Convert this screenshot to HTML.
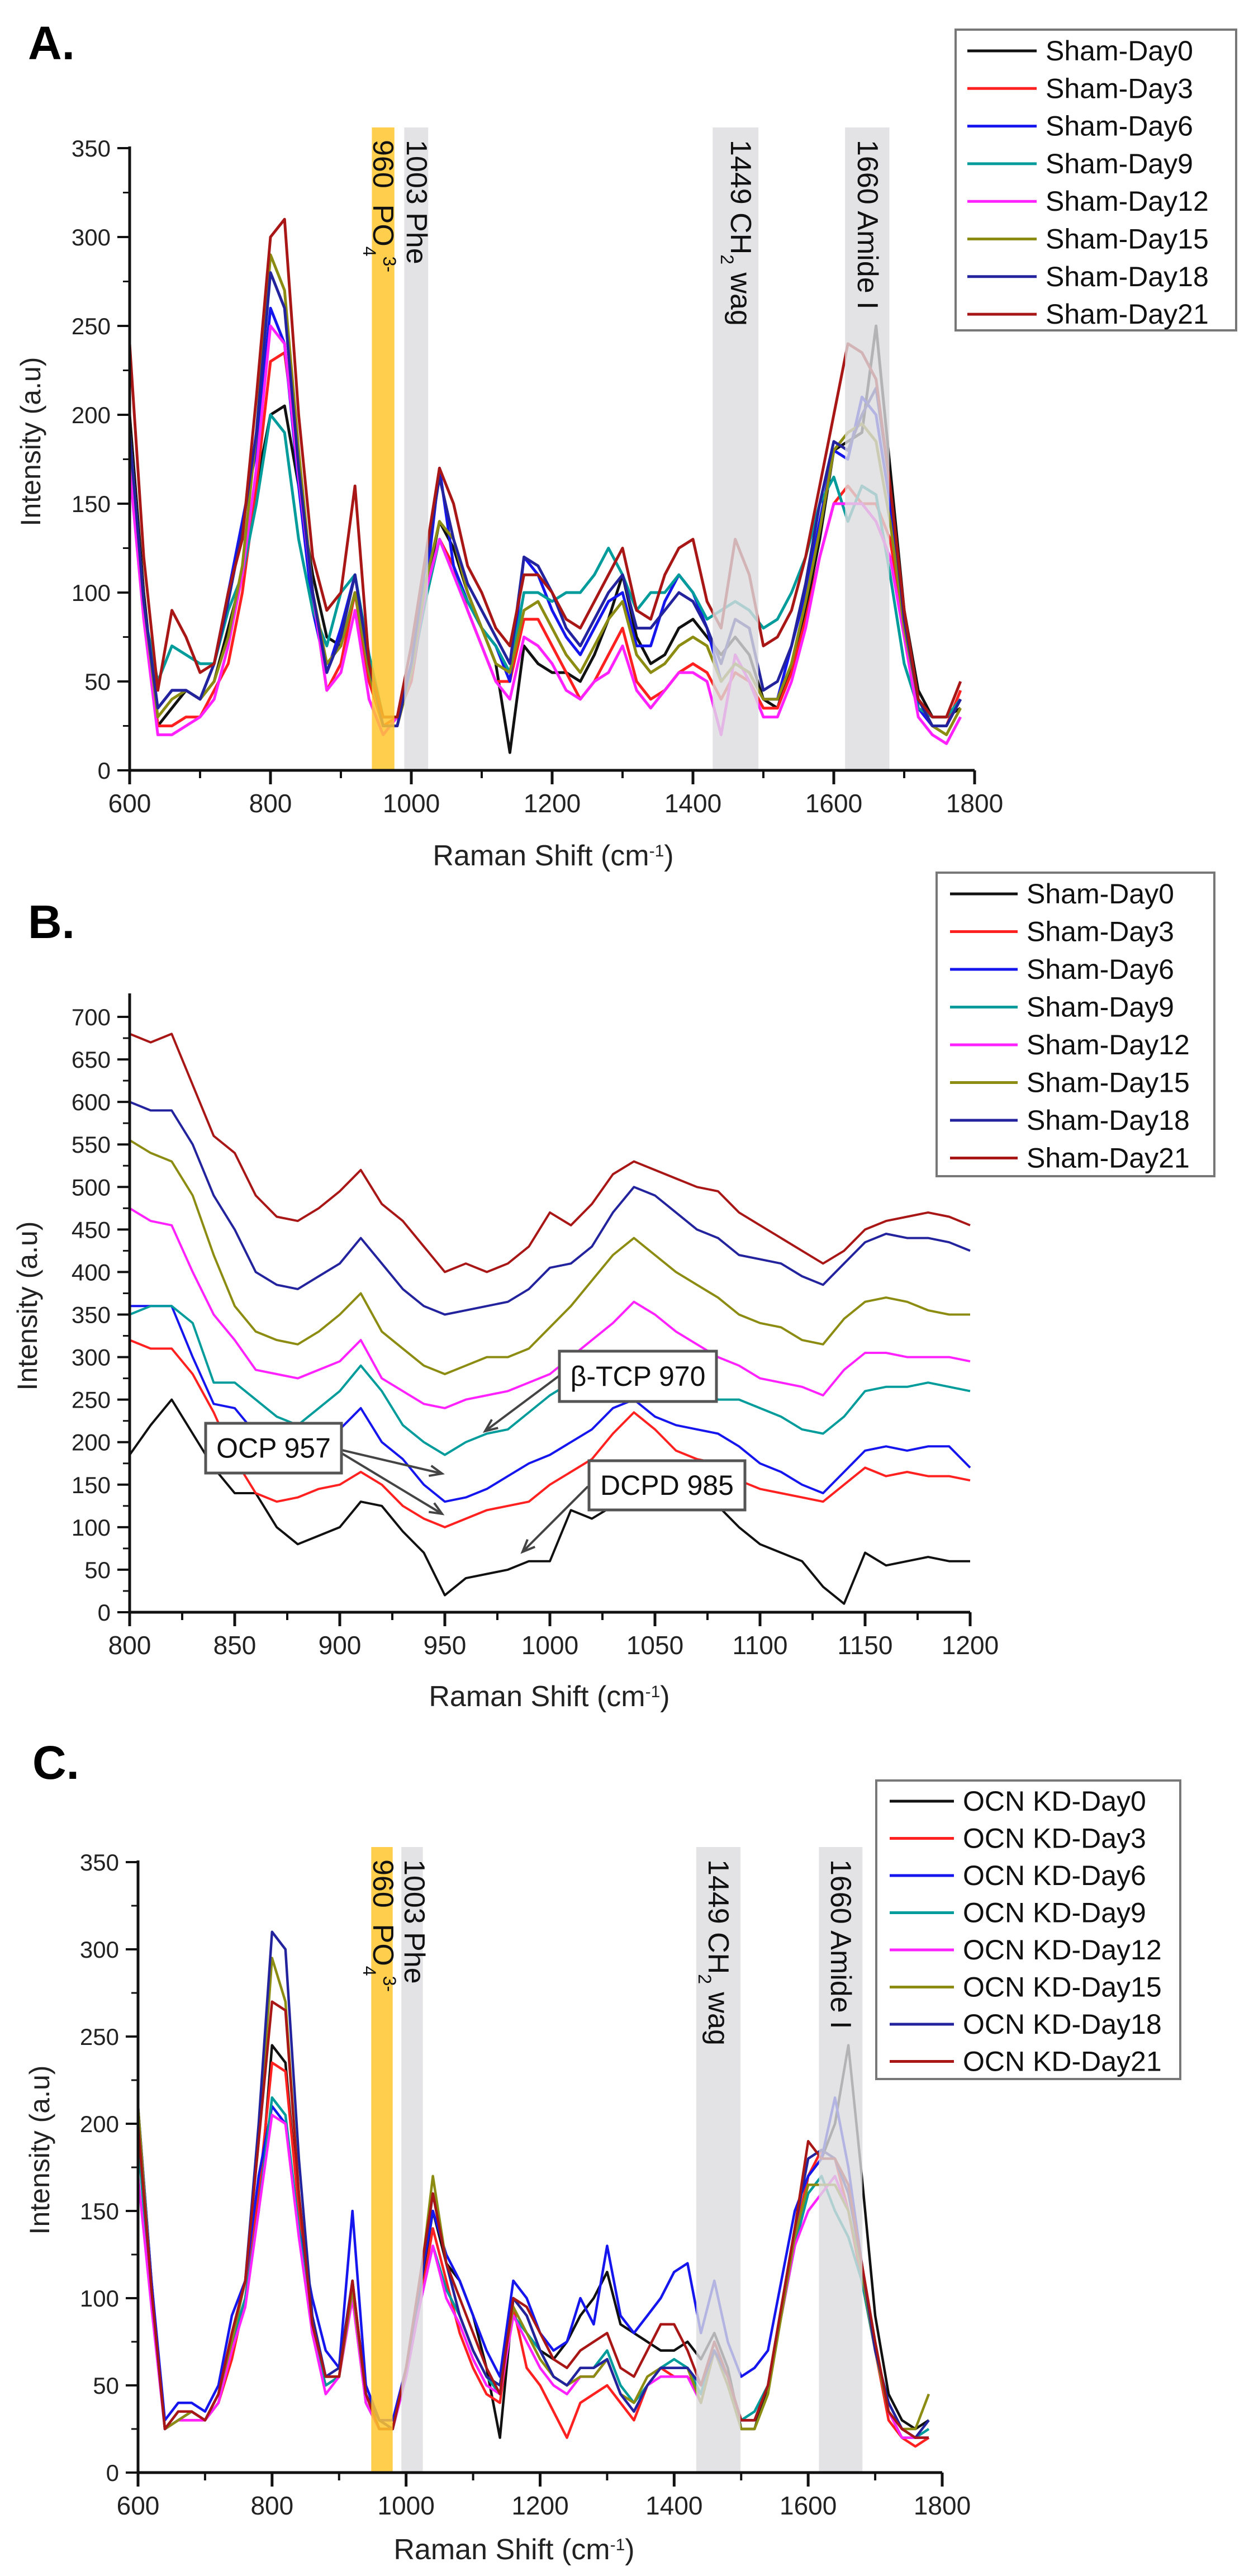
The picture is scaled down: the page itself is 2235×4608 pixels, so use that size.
<!DOCTYPE html>
<html><head><meta charset="utf-8">
<style>
html,body{margin:0;padding:0;background:#fff;}
svg{display:block;font-family:"Liberation Sans",Arial,sans-serif;}
</style></head>
<body>
<svg id="fig" width="2235" height="4608" viewBox="0 0 2235 4608" xmlns="http://www.w3.org/2000/svg">
<rect width="2235" height="4608" fill="#fff"/>
</svg>
<script>
// ---------- DATA ----------
const xA = [600,620,640,660,680,700,720,740,760,780,800,820,840,860,880,900,920,940,960,980,1000,1020,1040,1060,1080,1100,1120,1140,1160,1180,1200,1220,1240,1260,1280,1300,1320,1340,1360,1380,1400,1420,1440,1460,1480,1500,1520,1540,1560,1580,1600,1620,1640,1660,1680,1700,1720,1740,1760,1780];
const seriesNamesA = ["Sham-Day0","Sham-Day3","Sham-Day6","Sham-Day9","Sham-Day12","Sham-Day15","Sham-Day18","Sham-Day21"];
const a0 = [200,100,25,35,45,40,50,80,110,160, 200,205,160,110,75,70,100,60,30,30, 55,100,140,125,100,80,60,10,70,60, 55,55,50,65,85,110,75,60,65,80, 85,75,65,75,65,40,35,60,90,130, 180,185,190,250,170,90,45,30,30,35];
const a3 = [190,95,25,25,30,30,45,60,100,160, 230,235,175,100,45,60,100,50,25,30, 50,100,130,115,90,70,50,50,85,85, 70,55,40,50,65,80,50,40,45,55, 60,55,40,55,50,35,35,55,85,120, 150,160,150,150,130,80,35,25,25,45];
const a6 = [180,90,35,45,45,40,60,100,140,180, 260,240,160,90,55,80,110,60,30,30, 60,100,170,115,95,80,70,50,120,110, 90,75,65,80,95,100,70,70,95,110, 100,80,50,60,55,40,40,70,100,140, 180,175,210,200,150,80,35,25,25,40];
const a9 = [170,90,50,70,65,60,60,90,110,150, 200,190,130,90,70,100,110,65,30,30, 55,95,130,110,95,80,70,55,100,100, 95,100,100,110,125,110,90,100,100,110, 100,85,90,95,90,80,85,100,120,150, 165,140,160,155,110,60,35,30,30,40];
const a12 = [170,85,20,20,25,30,40,70,110,170, 250,240,165,100,45,55,90,40,20,30, 55,100,130,110,90,70,50,40,75,70, 60,45,40,50,55,70,45,35,45,55, 55,50,20,65,50,30,30,50,80,120, 150,150,150,140,120,75,30,20,15,30];
const a15 = [190,95,30,40,45,40,50,75,115,190, 290,270,180,100,60,70,100,55,25,25, 55,105,140,130,100,80,60,55,90,95, 80,65,55,70,85,95,65,55,60,70, 75,70,50,60,55,40,40,60,95,135, 180,190,195,185,140,80,40,25,20,35];
const a18 = [190,95,35,45,45,40,60,95,135,190, 280,260,170,100,55,75,110,60,25,25, 60,115,165,130,105,90,75,60,120,115, 100,80,70,85,100,110,80,80,90,100, 95,80,60,85,80,45,50,70,105,150, 185,180,200,215,160,85,40,25,25,40];
const a21 = [240,120,45,90,75,55,60,100,130,210, 300,310,200,120,90,100,160,60,30,30, 70,120,170,150,115,100,80,70,110,110, 100,85,80,95,110,125,90,85,110,125, 130,95,80,130,110,70,75,90,120,160, 200,240,235,220,160,90,40,30,30,50];

const xB = [800,810,820,830,840,850,860,870,880,890,900,910,920,930,940,950,960,970,980,990,1000,1010,1020,1030,1040,1050,1060,1070,1080,1090,1100,1110,1120,1130,1140,1150,1160,1170,1180,1190,1200];
const seriesNamesB = ["Sham-Day0","Sham-Day3","Sham-Day6","Sham-Day9","Sham-Day12","Sham-Day15","Sham-Day18","Sham-Day21"];
const b0 = [185,220,250,210,170,140,140,100,80,90, 100,130,125,95,70,20,40,45,50,60, 60,120,110,125,155,160,150,125,125,100, 80,70,60,30,10,70,55,60,65,60, 60];
const b3 = [320,310,310,280,235,180,140,130,135,145, 150,165,150,125,110,100,110,120,125,130, 150,165,180,210,235,215,190,180,175,155, 145,140,135,130,150,170,160,165,160,160, 155];
const b6 = [360,360,360,300,245,240,210,205,200,215, 215,240,200,180,150,130,135,145,160,175, 185,200,215,240,250,230,220,215,210,195, 175,165,150,140,165,190,195,190,195,195, 170];
const b9 = [350,360,360,340,270,270,250,230,220,240, 260,290,260,220,200,185,200,210,215,235, 255,270,260,270,260,250,260,265,250,250, 240,230,215,210,230,260,265,265,270,265, 260];
const b12 = [475,460,455,400,350,320,285,280,275,285, 295,320,275,260,245,240,250,255,260,270, 280,300,320,340,365,350,330,315,300,290, 275,270,265,255,285,305,305,300,300,300, 295];
const b15 = [555,540,530,490,420,360,330,320,315,330, 350,375,330,310,290,280,290,300,300,310, 335,360,390,420,440,420,400,385,370,350, 340,335,320,315,345,365,370,365,355,350, 350];
const b18 = [600,590,590,550,490,450,400,385,380,395, 410,440,410,380,360,350,355,360,365,380, 405,410,430,470,500,490,470,450,440,420, 415,410,395,385,410,435,445,440,440,435, 425];
const b21 = [680,670,680,620,560,540,490,465,460,475, 495,520,480,460,430,400,410,400,410,430, 470,455,480,515,530,520,510,500,495,470, 455,440,425,410,425,450,460,465,470,465, 455];

const xC = xA;
const seriesNamesC = ["OCN KD-Day0","OCN KD-Day3","OCN KD-Day6","OCN KD-Day9","OCN KD-Day12","OCN KD-Day15","OCN KD-Day18","OCN KD-Day21"];
const c0 = [210,110,25,30,35,30,40,70,100,150, 245,235,150,80,55,55,105,50,30,25, 60,100,150,120,110,90,60,20,100,90, 70,65,75,90,100,115,85,80,75,70, 70,75,65,80,60,25,25,50,90,130, 170,180,200,245,170,90,45,30,25,30];
const c3 = [200,100,25,30,30,30,40,65,100,160, 235,230,150,80,50,55,100,40,25,25, 60,95,140,110,80,60,45,40,95,60, 50,35,20,40,45,50,40,30,50,60, 55,55,45,70,55,30,30,50,90,135, 170,185,180,150,110,70,30,20,15,20];
const c6 = [210,110,30,40,40,35,50,90,110,170, 210,200,140,100,70,60,150,50,30,30, 60,105,150,125,110,90,70,55,110,100, 80,70,75,100,85,130,90,80,90,100, 115,120,80,110,75,55,60,70,110,150, 170,180,215,175,120,70,40,25,20,20];
const c9 = [190,100,25,30,35,30,45,75,100,150, 215,205,140,80,50,55,110,40,25,25, 55,95,130,105,90,70,55,45,90,80, 70,55,50,60,60,70,50,40,50,60, 65,60,45,75,55,30,35,50,90,130, 160,170,150,135,110,70,35,20,20,25];
const c12 = [170,95,25,30,30,30,40,70,95,150, 205,200,135,80,45,55,100,40,25,25, 55,95,130,100,85,65,50,45,90,75, 60,50,45,55,55,65,45,35,50,55, 55,55,40,70,50,30,30,50,90,130, 150,160,170,150,115,70,35,20,20,20];
const c15 = [210,105,25,30,35,30,45,75,110,190, 295,270,160,85,55,55,105,45,25,25, 60,105,170,120,90,70,55,50,95,80, 65,55,50,55,55,65,45,40,55,60, 60,60,40,70,50,25,25,45,90,135, 165,165,165,150,115,70,35,25,25,45];
const c18 = [200,105,25,35,35,30,45,80,110,200, 310,300,180,90,55,60,110,45,30,25, 60,105,160,120,90,70,55,50,100,90, 70,55,50,60,60,65,45,35,50,60, 60,60,50,70,55,30,30,50,95,140, 180,185,180,160,120,70,40,25,20,30];
const c21 = [200,105,25,35,35,30,45,80,110,190, 270,265,160,85,55,55,110,45,25,25, 60,110,160,120,100,80,60,45,100,95, 80,65,60,70,75,80,60,55,70,85, 85,70,50,75,55,30,30,50,95,140, 190,180,180,165,120,75,35,25,20,20];

const ticksAC_x = [600,800,1000,1200,1400,1600,1800];
const ticksAC_y = [0,50,100,150,200,250,300,350];
const ticksB_x = [800,850,900,950,1000,1050,1100,1150,1200];
const ticksB_y = [0,50,100,150,200,250,300,350,400,450,500,550,600,650,700];
const bandsA = [[944,976],[990,1024],[1428,1493],[1616,1679]];
const bandsC = [[948,980],[993,1025],[1433,1499],[1616,1681]];

// ---------- RENDERING ----------
const NS = "http://www.w3.org/2000/svg";
const svg = document.getElementById('fig');
const colors = ["#111111","#ff2020","#1515ee","#009b9b","#ff22ff","#8c8c12","#23239e","#a81616"];
function mk(tag, attrs, parent){const e=document.createElementNS(NS,tag);for(const k in attrs)e.setAttribute(k,attrs[k]);(parent||svg).appendChild(e);return e;}

function drawPanel(P){
  const g = mk('g',{});
  
  
  const sx = v => P.px0 + (v-P.xmin)/(P.xmax-P.xmin)*(P.px1-P.px0);
  const sy = v => P.py0 - (v-P.ymin)/(P.ymax-P.ymin)*(P.py0-P.py1);
  P.series.forEach((s,i)=>{
    let d='';
    s.forEach((v,j)=>{ d += (j?'L':'M')+sx(P.xs[j]).toFixed(1)+' '+sy(v).toFixed(1); });
    const p = mk('path',{d:d,fill:'none',stroke:colors[i],'stroke-width':P.lw,'stroke-linejoin':'round'},g);
    
    
  });
  (P.bands||[]).forEach((b,i)=>{
    const r = mk('rect',{x:sx(b[0]),y:P.bandTop,width:sx(b[1])-sx(b[0]),height:P.py0-P.bandTop,fill:i===0?'#ffc52e':'#dcdcdf','fill-opacity':i===0?0.85:0.8},g);
    
    
  });
  mk('line',{x1:P.px0,y1:P.py0,x2:P.px1,y2:P.py0,stroke:'#111','stroke-width':5},g);
  mk('line',{x1:P.px0,y1:P.py0+25,x2:P.px0,y2:P.axTop,stroke:'#111','stroke-width':5},g);
  P.xt.forEach(t=>{
    const x=sx(t);
    mk('line',{x1:x,y1:P.py0,x2:x,y2:P.py0+25,stroke:'#111','stroke-width':5},g);
    const tx = mk('text',{x:x,y:P.py0+75,'text-anchor':'middle','font-size':46,fill:'#222'},g);
    tx.textContent=t;
    
    
  });
  for(let k=0;k<P.xt.length-1;k++){
    const x=(sx(P.xt[k])+sx(P.xt[k+1]))/2;
    mk('line',{x1:x,y1:P.py0,x2:x,y2:P.py0+14,stroke:'#111','stroke-width':4},g);
  }
  P.yt.forEach((t,k)=>{
    const y=sy(t);
    mk('line',{x1:P.px0-22,y1:y,x2:P.px0,y2:y,stroke:'#111','stroke-width':4},g);
    if(k<P.yt.length-1){const y2=(y+sy(P.yt[k+1]))/2;mk('line',{x1:P.px0-12,y1:y2,x2:P.px0,y2:y2,stroke:'#111','stroke-width':3},g);}
    const tx = mk('text',{x:P.px0-34,y:y+15,'text-anchor':'end','font-size':42,fill:'#222'},g);
    tx.textContent=t;
    
    
  });
  const yl = mk('text',{x:0,y:0,'text-anchor':'middle','font-size':50,fill:'#222',transform:`translate(${P.ylx},${P.yly}) rotate(-90)`},g);
  yl.textContent='Intensity (a.u)';
  
  
  const xl = mk('text',{x:P.xlx,y:P.xly,'text-anchor':'middle','font-size':52,fill:'#222'},g);
  xl.innerHTML='Raman Shift (cm<tspan baseline-shift="super" font-size="30">-1</tspan>)';
  
  
  const pl = mk('text',{x:P.lx,y:P.ly,'font-size':84,'font-weight':'bold',fill:'#000'},g);
  pl.textContent=P.letter;
  
  
  const lg = mk('g',{},g);
  
  
  mk('rect',{x:P.lgx,y:P.lgy,width:P.lgw,height:P.lgh,fill:'#fff',stroke:'#777','stroke-width':4},lg);
  P.names.forEach((n,i)=>{
    const y=P.lgy+P.lg0+i*P.lgs;
    const en = mk('g',{},lg);
    
    
    mk('line',{x1:P.lgl0,y1:y,x2:P.lgl1,y2:y,stroke:colors[i],'stroke-width':5},en);
    const t = mk('text',{x:P.lgl1+16,y:y+17,'font-size':50,fill:'#111'},en);
    t.textContent=n;
  });
  return {g,sx,sy};
}

function bandLabel(g,x,y,html,name){
  const t = mk('text',{x:0,y:0,'font-size':52,fill:'#111',transform:`translate(${x},${y}) rotate(90)`},g);
  t.innerHTML=html;
  
  
}

const A = drawPanel({id:'panel-a',letter:'A.',xs:xA,series:[a0,a3,a6,a9,a12,a15,a18,a21],names:seriesNamesA,
  xmin:600,xmax:1800,ymin:0,ymax:350,px0:232,px1:1744,py0:1378,py1:265,axTop:262,lw:5,
  bands:bandsA,bandTop:228,xt:ticksAC_x,yt:ticksAC_y,
  ylx:72,yly:790,xlx:990,xly:1548,lx:50,ly:106,
  lgx:1710,lgy:53,lgw:502,lgh:538,lg0:38,lgs:67.3,lgl0:1731,lgl1:1855});
bandLabel(A.g,668,250,'960&#160;&#160;PO<tspan baseline-shift="sub" font-size="32">4</tspan><tspan baseline-shift="super" font-size="32">3-</tspan>','band-label-960-po4');
bandLabel(A.g,728,250,'1003 Phe','band-label-1003-phe');
bandLabel(A.g,1308,250,'1449 CH<tspan baseline-shift="sub" font-size="32">2</tspan> wag','band-label-1449-ch2');
bandLabel(A.g,1535,250,'1660 Amide I','band-label-1660-amide');

const B = drawPanel({id:'panel-b',letter:'B.',xs:xB,series:[b0,b3,b6,b9,b12,b15,b18,b21],names:seriesNamesB,
  xmin:800,xmax:1200,ymin:0,ymax:700,px0:232,px1:1736,py0:2884,py1:1819,axTop:1777,lw:4,
  bands:[],bandTop:0,xt:ticksB_x,yt:ticksB_y,
  ylx:66,yly:2336,xlx:983,xly:3052,lx:50,ly:1678,
  lgx:1676,lgy:1561,lgw:497,lgh:543,lg0:38,lgs:67.5,lgl0:1700,lgl1:1821});
function annot(g,x,y,w,h,txt,name){
  const bx = mk('g',{},g);
  
  
  mk('rect',{x:x,y:y,width:w,height:h,fill:'#fff',stroke:'#555','stroke-width':5},bx);
  const t=mk('text',{x:x+w/2,y:y+h/2+17,'text-anchor':'middle','font-size':50,fill:'#111'},bx);
  t.textContent=txt;
}
function arrow(g,x1,y1,x2,y2){
  const a = mk('line',{x1,y1,x2,y2,stroke:'#444','stroke-width':4},g);
  
  
  const ang=Math.atan2(y2-y1,x2-x1),L=24;
  mk('path',{d:`M${x2-L*Math.cos(ang-0.4)} ${y2-L*Math.sin(ang-0.4)}L${x2} ${y2}L${x2-L*Math.cos(ang+0.4)} ${y2-L*Math.sin(ang+0.4)}`,fill:'none',stroke:'#444','stroke-width':4},g);
}
arrow(B.g,1002,2460,868,2560);
arrow(B.g,612,2594,791,2636);
arrow(B.g,612,2600,791,2708);
arrow(B.g,1052,2659,935,2776);
annot(B.g,1001,2417,281,90,'β-TCP 970','annotation-btcp-970');
annot(B.g,368,2546,243,89,'OCP 957','annotation-ocp-957');
annot(B.g,1054,2613,279,88,'DCPD 985','annotation-dcpd-985');

const C = drawPanel({id:'panel-c',letter:'C.',xs:xC,series:[c0,c3,c6,c9,c12,c15,c18,c21],names:seriesNamesC,
  xmin:600,xmax:1800,ymin:0,ymax:350,px0:247,px1:1686,py0:4423,py1:3331,axTop:3328,lw:4.5,
  bands:bandsC,bandTop:3304,xt:ticksAC_x,yt:ticksAC_y,
  ylx:88,yly:3846,xlx:920,xly:4578,lx:58,ly:3182,
  lgx:1568,lgy:3185,lgw:544,lgh:534,lg0:37,lgs:66.5,lgl0:1592,lgl1:1707});
bandLabel(C.g,668,3326,'960&#160;&#160;PO<tspan baseline-shift="sub" font-size="32">4</tspan><tspan baseline-shift="super" font-size="32">3-</tspan>','band-label-c-960-po4');
bandLabel(C.g,724,3326,'1003 Phe','band-label-c-1003-phe');
bandLabel(C.g,1268,3326,'1449 CH<tspan baseline-shift="sub" font-size="32">2</tspan> wag','band-label-c-1449-ch2');
bandLabel(C.g,1487,3326,'1660 Amide I','band-label-c-1660-amide');
</script>
</body></html>
